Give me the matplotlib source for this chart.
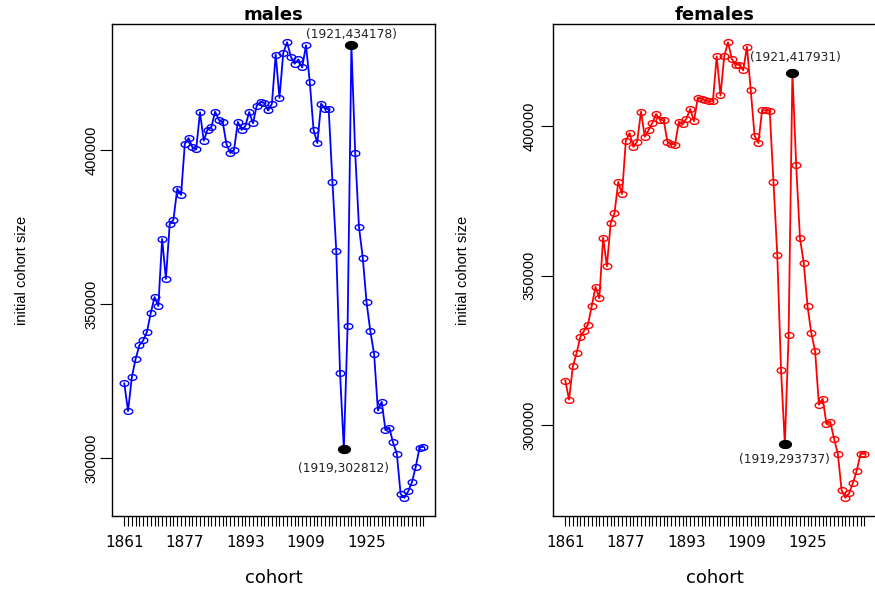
import numpy as np
import matplotlib.pyplot as plt
from matplotlib.path import Path

# initial cohort size by birth cohort, 1861-1940
years = list(range(1861, 1941))
males = [324200, 315200, 326200, 332200, 336600, 338200, 341000, 347100, 352300, 349400,
         371200, 358200, 376000, 377500, 387600, 385500, 402200, 404000, 401000, 400400,
         412400, 403200, 406800, 407600, 412600, 409900, 409300, 402000, 399200, 400200,
         409300, 406700, 408000, 412500, 408800, 414600, 415800, 415400, 413000, 415200,
         431200, 417100, 431700, 435200, 430500, 428200, 429600, 427000, 434200, 422300,
         406700, 402400, 415200, 413600, 413400, 389600, 367300, 327500, 302812, 343000,
         434178, 399200, 375100, 365100, 350600, 341200, 333700, 315400, 318200, 309000,
         309800, 305000, 301300, 288200, 287000, 289100, 292100, 297100, 303300, 303600]
females = [315000, 308600, 319700, 324200, 329600, 331700, 333700, 340000, 346300, 342500,
           362800, 353200, 367700, 370900, 381400, 377400, 395200, 397700, 393100, 394900,
           404900, 396500, 398700, 401100, 404100, 402200, 402000, 394800, 394000, 393900,
           401500, 400800, 402500, 405800, 401700, 409500, 409200, 408700, 408300, 408400,
           423400, 410300, 423500, 428100, 422500, 420600, 420500, 418700, 426600, 412000,
           396900, 394400, 405400, 405300, 405200, 381400, 357100, 318400, 293737, 330300,
           417931, 387000, 362500, 354300, 339800, 330800, 324800, 306900, 308900, 300500,
           301200, 295600, 290500, 278300, 275800, 277400, 280800, 284900, 290500, 290500]
label_years = [1861, 1877, 1893, 1909, 1925]
marked_years = [1919, 1921]
y_ticks = [300000, 350000, 400000]

# the reference is stretched sideways, so its circles are ellipses
t = np.linspace(0, 2 * np.pi, 61)
ellipse = Path(np.column_stack([1.5 * np.cos(t), np.sin(t)]))

W, H = 875, 589
fig = plt.figure(figsize=(W / 100, H / 100), dpi=100)


def panel(left, vals, color, title, offsets, ypad):
    ax = fig.add_axes([left / W, (H - 516) / H, 323 / W, 492 / H])
    ax.plot(years, vals, color=color, lw=1.3, marker=ellipse, ms=6.2,
            mfc='none', mec=color, mew=1.0)
    for yr, (dx, dy) in zip(marked_years, offsets):
        v = vals[years.index(yr)]
        ax.plot([yr], [v], marker=ellipse, ms=8.5, color='black', ls='none')
        ax.annotate(f"({yr},{v})", (yr, v), xytext=(dx * 0.72, dy * 0.72),
                    textcoords='offset points', ha='center', va='center',
                    fontsize=8.8, color='#222222')

    rx = years[-1] - years[0]
    ax.set_xlim(years[0] - 0.04 * rx, years[-1] + 0.04 * rx)
    ry = max(vals) - min(vals)
    ax.set_ylim(min(vals) - 0.04 * ry, max(vals) + 0.04 * ry)

    ax.set_xticks(years)
    ax.set_xticklabels([str(y) if y in label_years else '' for y in years],
                       fontsize=11)
    ax.tick_params(axis='x', length=7, width=0.8, pad=7)
    ax.set_yticks(y_ticks)
    ax.set_yticklabels([str(v) for v in y_ticks], rotation=90, va='center',
                       fontsize=10.5, family='Liberation Sans')
    ax.tick_params(axis='y', length=9, width=0.8, pad=ypad)
    for s in ax.spines.values():
        s.set_linewidth(1.0)

    ax.set_title(title, fontsize=13, fontweight='bold', pad=3)
    ax.text(0.5, -0.126, 'cohort', transform=ax.transAxes, ha='center',
            va='center', fontsize=13)
    ax.text(-0.28, 0.5, 'initial cohort size', transform=ax.transAxes,
            rotation=90, ha='center', va='center', fontsize=10.5,
            family='Liberation Sans')
    return ax


panel(112.3, males, 'blue', 'males', [(0, -19.6), (0, 11)], 1)
panel(553.3, females, 'red', 'females', [(0, -15.7), (3.4, 15.6)], 3)

fig.savefig('out.png', dpi=100)
